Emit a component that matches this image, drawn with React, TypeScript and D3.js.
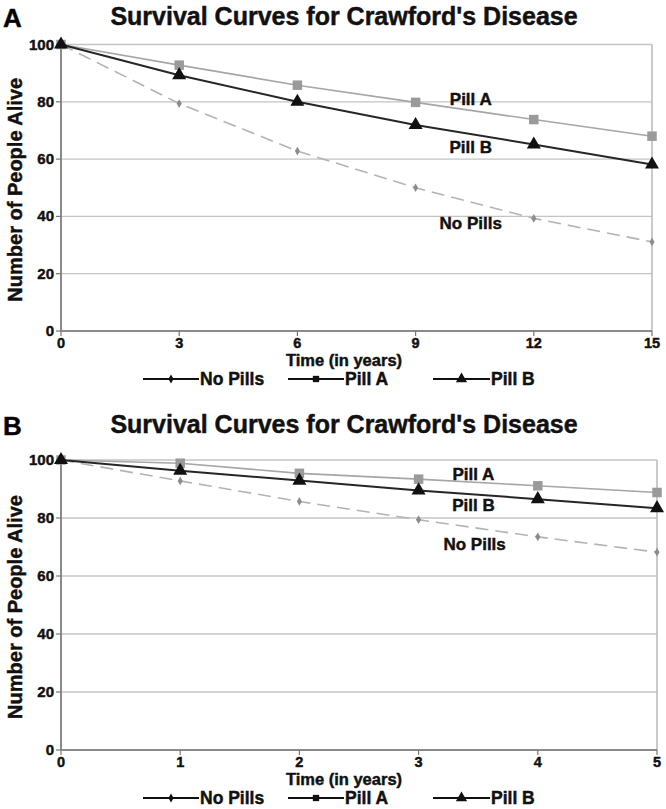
import React from "react";
import * as d3 from "d3";

// ---------- Data ----------
const seriesNames = ["No Pills", "Pill A", "Pill B"];

const yearsA = [0, 3, 6, 9, 12, 15];
const noPillsA = [100, 79.4, 62.8, 50.0, 39.3, 31.1];
const pillAA = [100, 92.8, 85.8, 79.8, 73.8, 68.0];
const pillBA = [100, 89.3, 80.0, 71.9, 65.1, 58.1];

const yearsB = [0, 1, 2, 3, 4, 5];
const noPillsB = [100, 92.8, 85.7, 79.4, 73.5, 68.2];
const pillAB = [100, 98.9, 95.4, 93.4, 91.1, 88.8];
const pillBB = [100, 96.3, 92.9, 89.5, 86.5, 83.4];

const yTicks = [0, 20, 40, 60, 80, 100];
const titleText = "Survival Curves for Crawford's Disease";
const xTitle = "Time (in years)";
const yTitle = "Number of People Alive";
const inlineLabels = ["Pill A", "Pill B", "No Pills"];

const FONT = "'Liberation Sans', Arial, Helvetica, sans-serif";

type PanelProps = {
  letter: string;
  years: number[];
  series: number[][];
  xMax: number;
  top: number;
  bottom: number;
  left: number;
  right: number;
  titleY: number;
  labelPos: { x: number; y: number }[];
};

const styles = [
  { stroke: "#b3b3b3", width: 1.6, dash: "13,7", symbol: d3.symbolDiamond, size: 22, fill: "#8c8c8c" },
  { stroke: "#a6a6a6", width: 1.6, dash: "", symbol: d3.symbolSquare, size: 90, fill: "#9a9a9a" },
  { stroke: "#262626", width: 2, dash: "", symbol: d3.symbolTriangle, size: 85, fill: "#111" },
];

const legendSymbols = [d3.symbolDiamond, d3.symbolSquare, d3.symbolTriangle];
const legendSizes = [24, 40, 55];

const boldText = { fontFamily: FONT, fontWeight: "bold" as const, fill: "#111", stroke: "#111", strokeWidth: 0.45 };

function Panel(p: PanelProps) {
  const x = d3.scaleLinear().domain([0, p.xMax]).range([p.left, p.right]);
  const y = d3.scaleLinear().domain([0, 100]).range([p.bottom, p.top]);
  const line = d3
    .line<[number, number]>()
    .x((d) => x(d[0]))
    .y((d) => y(d[1]))
    .curve(d3.curveLinear);
  const legendY = p.bottom + 48;
  const legendItems = [
    { x0: 143, x1: 199 },
    { x0: 288, x1: 344 },
    { x0: 433, x1: 490 },
  ];
  return (
    <g>
      <text x={3} y={p.titleY + 2} {...boldText} fontSize={26} fill="#000">
        {p.letter}
      </text>
      <text x={344} y={p.titleY} textAnchor="middle" {...boldText} fontSize={25}>
        {titleText}
      </text>
      {yTicks.map((t) => (
        <line key={"g" + t} x1={p.left} x2={p.right} y1={y(t)} y2={y(t)} stroke="#c4c4c4" strokeWidth={1.3} />
      ))}
      <line x1={p.right} x2={p.right} y1={y(100)} y2={y(0)} stroke="#b8b8b8" strokeWidth={1.5} />
      <line x1={p.left} x2={p.left} y1={y(100)} y2={y(0)} stroke="#8a8a8a" strokeWidth={2} />
      <line x1={p.left} x2={p.right} y1={y(0)} y2={y(0)} stroke="#8a8a8a" strokeWidth={2} />
      {yTicks.map((t) => (
        <g key={"yt" + t}>
          <line x1={p.left - 5} x2={p.left} y1={y(t)} y2={y(t)} stroke="#777" strokeWidth={1.2} />
          <text x={p.left - 7} y={y(t) + 5} textAnchor="end" {...boldText} fontSize={15}>
            {t}
          </text>
        </g>
      ))}
      {p.years.map((t) => (
        <g key={"xt" + t}>
          <line x1={x(t)} x2={x(t)} y1={y(0)} y2={y(0) + 5} stroke="#777" strokeWidth={1.2} />
          <text x={x(t)} y={y(0) + 17} textAnchor="middle" {...boldText} fontSize={14.5}>
            {t}
          </text>
        </g>
      ))}
      <text x={344} y={y(0) + 35} textAnchor="middle" {...boldText} fontSize={16.5}>
        {xTitle}
      </text>
      <text
        transform={`translate(22,${(y(0) + y(100)) / 2 + 2}) rotate(-90)`}
        textAnchor="middle"
        {...boldText}
        fontSize={20}
      >
        {yTitle}
      </text>
      {p.series.map((vals, i) => {
        const pts = p.years.map((yr, j) => [yr, vals[j]] as [number, number]);
        const st = styles[i];
        const sym = d3.symbol().type(st.symbol).size(st.size)();
        return (
          <g key={"s" + i}>
            <path
              d={line(pts) || ""}
              fill="none"
              stroke={st.stroke}
              strokeWidth={st.width}
              strokeDasharray={st.dash || undefined}
            />
            {pts.map((d, j) => (
              <path key={j} d={sym || ""} transform={`translate(${x(d[0])},${y(d[1])})`} fill={st.fill} />
            ))}
          </g>
        );
      })}
      {p.labelPos.map((lp, i) => (
        <text key={"l" + i} x={x(lp.x)} y={y(lp.y)} textAnchor="middle" {...boldText} fontSize={17}>
          {inlineLabels[i]}
        </text>
      ))}
      {seriesNames.map((name, i) => {
        const it = legendItems[i];
        const sym = d3.symbol().type(legendSymbols[i]).size(legendSizes[i])();
        return (
          <g key={"lg" + i}>
            <line x1={it.x0} x2={it.x1} y1={legendY} y2={legendY} stroke="#111" strokeWidth={1.8} />
            <path d={sym || ""} transform={`translate(${(it.x0 + it.x1) / 2},${legendY})`} fill="#111" />
            <text x={it.x1 + 1} y={legendY + 6} {...boldText} fontSize={17.5}>
              {name}
            </text>
          </g>
        );
      })}
    </g>
  );
}

export default function App() {
  return (
    <svg
      width={666}
      height={809}
      style={{ position: "absolute", left: 0, top: 0, background: "#fff", display: "block" }}
    >
      <rect width={666} height={809} fill="#fff" />
      <Panel
        letter="A"
        years={yearsA}
        series={[noPillsA, pillAA, pillBA]}
        xMax={15}
        top={44.5}
        bottom={331}
        left={61}
        right={652}
        titleY={25}
        labelPos={[
          { x: 10.4, y: 79 },
          { x: 10.4, y: 62.3 },
          { x: 10.4, y: 35.5 },
        ]}
      />
      <Panel
        letter="B"
        years={yearsB}
        series={[noPillsB, pillAB, pillBB]}
        xMax={5}
        top={460}
        bottom={750}
        left={61}
        right={657}
        titleY={433}
        labelPos={[
          { x: 3.46, y: 93.2 },
          { x: 3.46, y: 82.5 },
          { x: 3.47, y: 69 },
        ]}
      />
    </svg>
  );
}
